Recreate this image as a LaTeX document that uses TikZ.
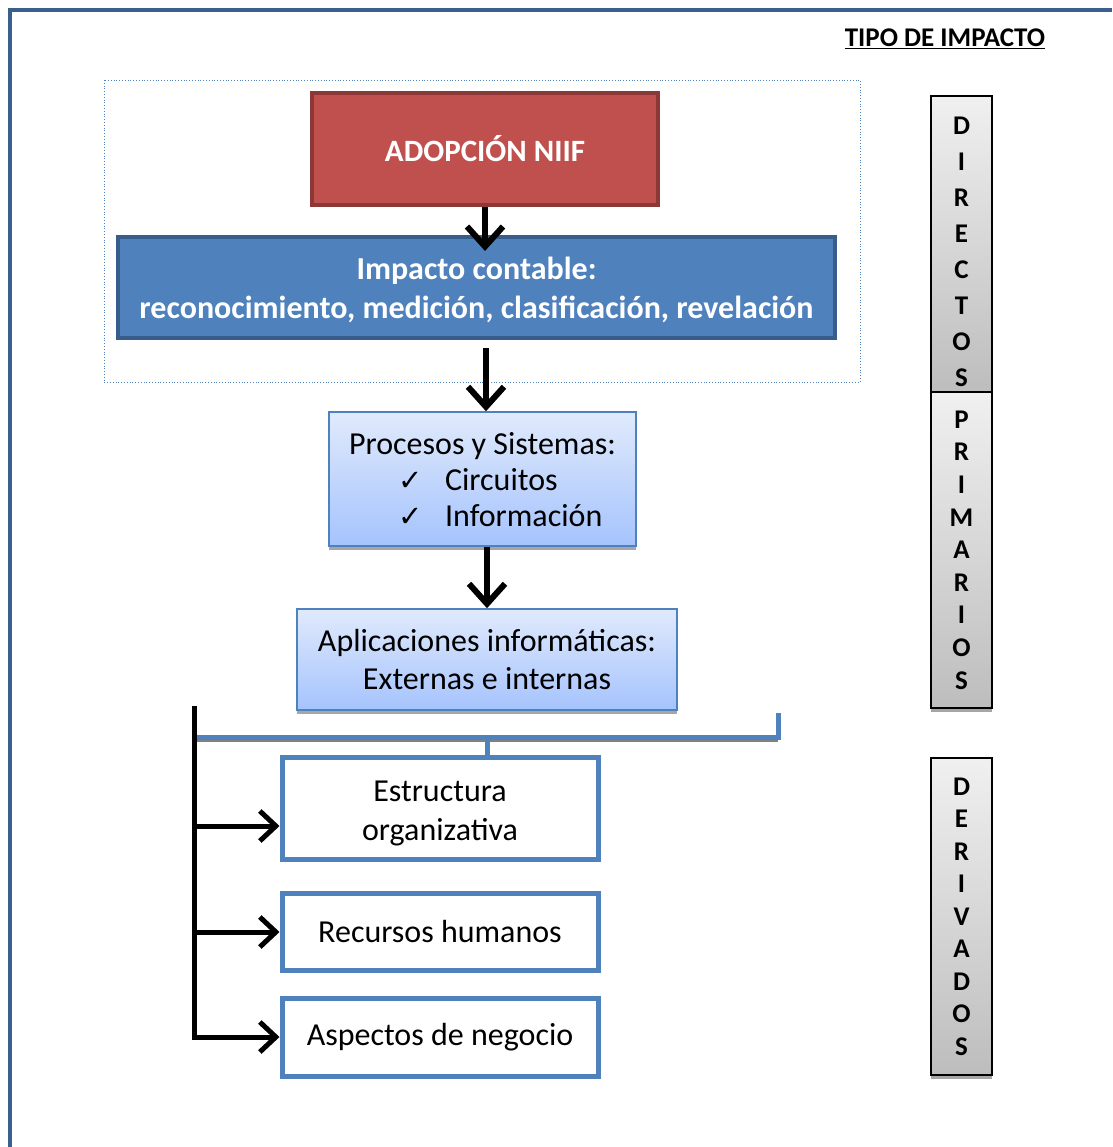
\documentclass[tikz,border=0pt]{standalone}
\usepackage{fontspec}
\setmainfont{Carlito}
\newfontfamily\symfont{DejaVu Sans}
\usetikzlibrary{positioning, calc, arrows.meta, shadows}
\definecolor{marco}{HTML}{3B5F8D}
\definecolor{rojo}{HTML}{C0504D}
\definecolor{rojoborde}{HTML}{8C3836}
\definecolor{azul}{HTML}{4F81BD}
\definecolor{azulborde}{HTML}{385D8A}
\definecolor{celeste}{HTML}{E0EAFC}
\definecolor{celesteb}{HTML}{A5C3FD}
\definecolor{grisclaro}{HTML}{F0F0F0}
\definecolor{grisoscuro}{HTML}{BDBDBD}
\tikzset{sombra/.style={drop shadow={shadow xshift=0pt, shadow yshift=-4pt, fill=gray, opacity=.7}},
  cajaroja/.style={draw=rojoborde, line width=4pt, fill=rojo, text=white, font=\bfseries\fontsize{31}{36}\selectfont, minimum width=346pt, minimum height=112pt},
  cajaazul/.style={draw=azulborde, line width=4pt, fill=azul, text=white, align=center, font=\bfseries\fontsize{32}{39}\selectfont, minimum width=717pt, minimum height=101pt},
  cajaclara/.style={draw=azul, line width=1.5pt, top color=celeste, bottom color=celesteb, align=center, font=\fontsize{32}{38}\selectfont, sombra},
  cajablanca/.style={draw=azul, line width=5pt, fill=white, align=center, font=\fontsize{32}{39}\selectfont, minimum width=316pt},
  cajagris/.style={draw=black, line width=1.5pt, top color=grisclaro, bottom color=grisoscuro, align=center, minimum width=61pt, sombra},
  flecha/.style={line width=6pt, -{Straight Barb[length=20pt, width=36pt]}},
  flechita/.style={line width=5pt, -{Straight Barb[length=16pt, width=30pt]}},
}

\begin{document}
\begin{tikzpicture}[x=1pt, y=-1pt]
    \useasboundingbox (0,0) rectangle (1112,1147);
    % marco de la pagina
    \draw[marco, line width=4pt](8,10)--(1112,10);
    \draw[marco, line width=4pt](10,8)--(10,1147);
    \node[font=\bfseries\fontsize{27}{30}\selectfont] (tipo) at (945,39) {\underline{TIPO DE IMPACTO}};

    \draw[azul, dotted, line width=.8pt](104,80) rectangle (860,382);

    \node[cajaroja] (adop) at (485,149) {ADOPCIÓN NIIF};
    \node[cajaazul] (impacto) at (476.5,287.5) {\rule{0pt}{27pt}Impacto contable:\\reconocimiento, medición, clasificación, revelación};
    \node[cajaclara, minimum width=307pt, minimum height=134pt] (proc) at (482.5,479)
        {\begin{tabular}{@{}l@{}}\rule{0pt}{35pt}Procesos y Sistemas:\\[-2pt]
        \hspace*{49pt}\makebox[47pt][l]{\symfont\fontsize{29}{36}\selectfont ✓}Circuitos\\[-2pt]
        \hspace*{49pt}\makebox[47pt][l]{\symfont\fontsize{29}{36}\selectfont ✓}Información\end{tabular}};
    \node[cajaclara, minimum width=380pt, minimum height=101pt] (apl) at (487,659.5) {Aplicaciones informáticas:\\Externas e internas};

    \draw[flecha](adop.south)--($(adop.south |- impacto.north)+(0,16)$);
    \coordinate (salida) at (486,348);
    \draw[flecha](salida)--(salida |- proc.north);
    \draw[flecha](proc.south -| apl.north)--(apl.north);

    \node[cajablanca, minimum height=102pt] (estr) at (440,808) {\rule{0pt}{31pt}Estructura\\organizativa};
    \node[cajablanca, minimum height=77pt] (recur) at (440,931.5) {Recursos humanos};
    \node[cajablanca, minimum height=78pt] (asp) at (440,1037) {Aspectos de negocio};

    % llave azul
    \coordinate (llave1) at (194,737);
    \coordinate (llave2) at (778,737);
    \coordinate (llave3) at (778,713);
    \draw[gray, line width=2pt](196,741)--(778,741);
    \draw[azul, line width=5pt](llave1)--(llave2)--(llave3);
    \draw[azul, line width=5pt](apl.south |- llave1)--(apl.south |- estr.north);

    % rama negra
    \coordinate (rama) at (194,706);
    \coordinate (r1) at (194,826);
    \coordinate (r2) at (194,932);
    \coordinate (r3) at (194,1037);
    \draw[line width=5pt](rama)--(194,1039.5);
    \draw[flechita](r1)--(r1 -| estr.west);
    \draw[flechita](r2)--(r2 -| recur.west);
    \draw[flechita](r3)--(r3 -| asp.west);

    % tipos de impacto
    \node[cajagris, minimum height=296pt, font=\bfseries\fontsize{27}{36}\selectfont] (dir) at (961.5,244) {\rule{0pt}{33pt}D\\I\\R\\E\\C\\T\\O\\S};
    \node[cajagris, minimum height=316pt, font=\bfseries\fontsize{27}{32.6}\selectfont] (prim) at (961.5,550) {P\\R\\I\\M\\A\\R\\I\\O\\S};
    \node[cajagris, minimum height=317pt, font=\bfseries\fontsize{27}{32.5}\selectfont] (deriv) at (961.5,916.5) {D\\E\\R\\I\\V\\A\\D\\O\\S};
\end{tikzpicture}
\end{document}
